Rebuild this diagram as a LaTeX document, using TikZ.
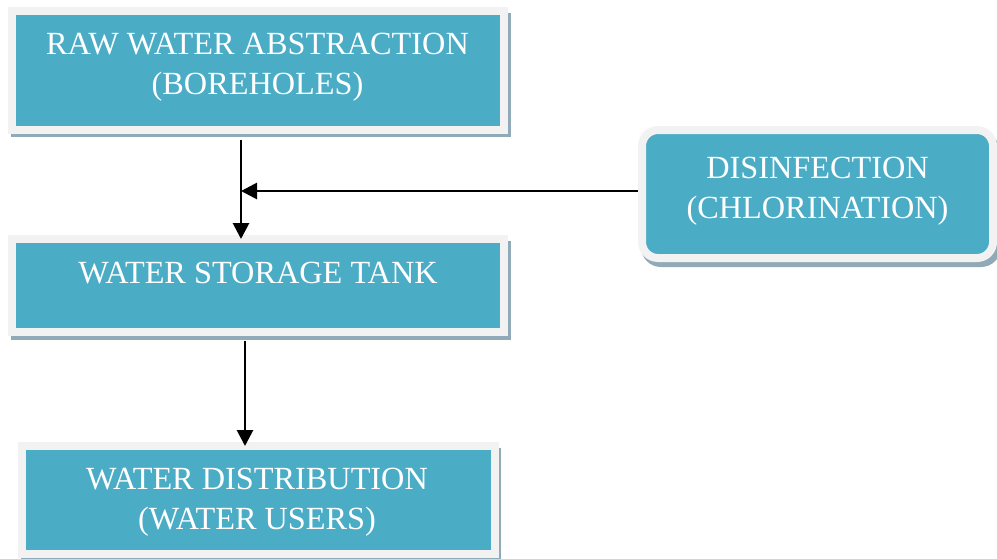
\documentclass[tikz,border=0pt]{standalone}
\usepackage{fontspec}
\setmainfont{Liberation Serif}
\usetikzlibrary{arrows.meta,calc,backgrounds}
\definecolor{boxblue}{HTML}{4BACC6}
\definecolor{boxrim}{HTML}{F2F2F2}
\definecolor{boxshade}{HTML}{90ABB7}
\tikzset{
  flowbox/.style={draw=boxrim, line width=8pt, fill=boxblue, inner sep=0pt, outer sep=0pt},
  boxtext/.style={text=white, font=\fontsize{32.3}{40}\selectfont, align=center, inner sep=0pt, anchor=north},
  arr/.style={line width=2.8pt, -{Triangle[length=16pt,width=16pt]}},
  shade/.style={fill=boxshade}
}
\begin{document}
\begin{tikzpicture}[x=1pt,y=-1pt]
\clip (0,0) rectangle (997,558);
% boxes
\node[flowbox, minimum width=492pt, minimum height=118.5pt] (b1) at (258,70.25) {};
\node[flowbox, minimum width=492pt, minimum height=93pt] (b2) at (258,285.5) {};
\node[flowbox, minimum width=473pt, minimum height=108pt] (b3) at (258,500) {};
\node[flowbox, rounded corners=16pt, minimum width=351pt, minimum height=128pt] (b4) at (817.5,194) {};
% shadows
\begin{scope}[on background layer]
  \fill[shade] ($(b1.north west)+(-1,2)$) rectangle ($(b1.south east)+(7,7.5)$);
  \fill[shade] ($(b2.north west)+(-1,2)$) rectangle ($(b2.south east)+(7,8)$);
  \fill[shade] ($(b3.north west)+(-1,2)$) rectangle ($(b3.south east)+(6,8)$);
  \fill[shade, rounded corners=20pt] ($(b4.north west)+(-1,3)$) rectangle ($(b4.south east)+(8,9)$);
\end{scope}
% texts
\node[boxtext] (t1) at (257.5,33) {RAW WATER ABSTRACTION\\(BOREHOLES)};
\node[boxtext] (t2) at (258,262) {WATER STORAGE TANK};
\node[boxtext] (t3) at (257,468) {WATER DISTRIBUTION\\(WATER USERS)};
\node[boxtext] (t4) at (817.5,157) {DISINFECTION\\(CHLORINATION)};
% connectors
\coordinate (a1s) at ($(b1.south)+(-17,10)$);
\coordinate (a1e) at ($(b2.north)+(-17,0)$);
\coordinate (a2s) at ($(b2.south)+(-13,9)$);
\coordinate (a2e) at ($(b3.north)+(-13,0)$);
\coordinate (hs) at ($(b4.west)+(-4,-3)$);
\draw[arr] (a1s) -- (a1e);
\draw[arr] (a2s) -- (a2e);
\draw[arr] (hs) -- (hs -| a1s);
\end{tikzpicture}
\end{document}
